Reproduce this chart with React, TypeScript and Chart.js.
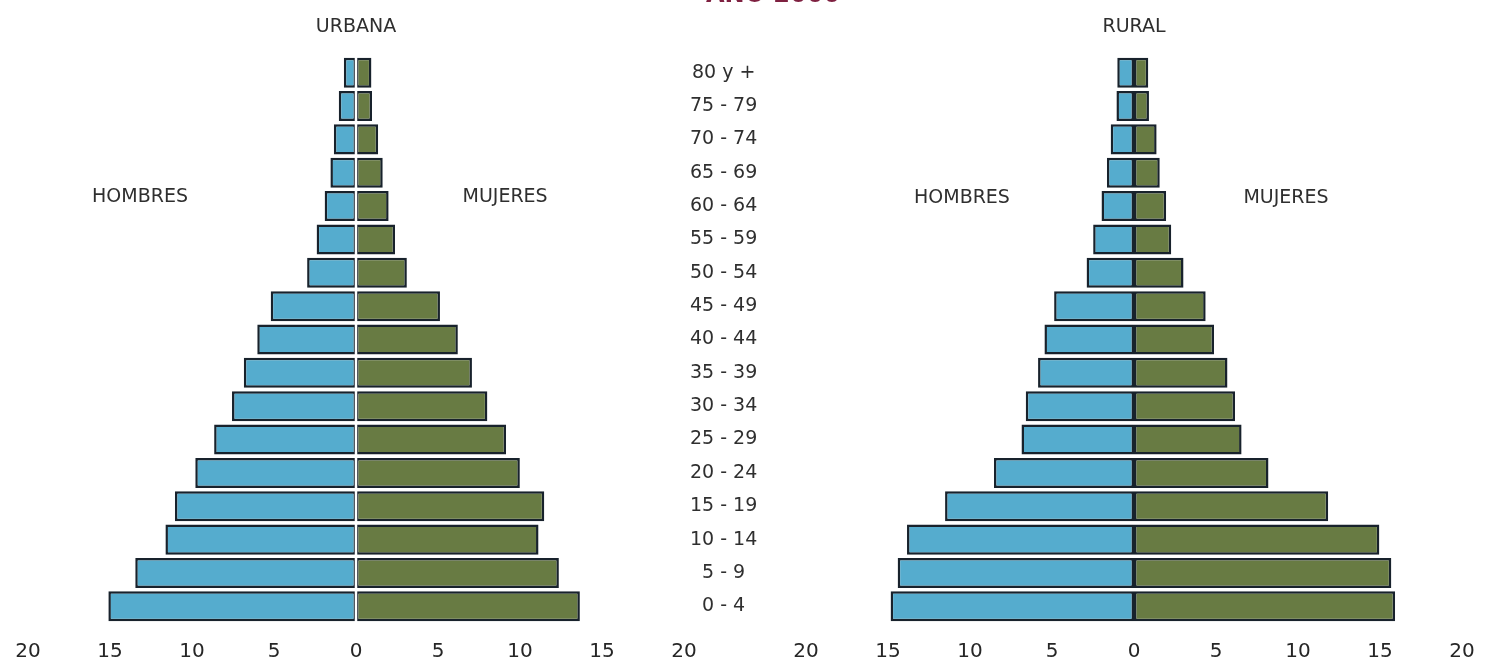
import React, { useEffect, useRef } from 'react';
import { Chart, registerables } from 'chart.js';

Chart.register(...registerables);

// ---------- data (top row first) ----------
const AGE_GROUPS = [
  '80 y +', '75 - 79', '70 - 74', '65 - 69', '60 - 64', '55 - 59', '50 - 54', '45 - 49',
  '40 - 44', '35 - 39', '30 - 34', '25 - 29', '20 - 24', '15 - 19', '10 - 14', '5 - 9', '0 - 4',
];
const URBAN_MEN = [0.74, 1.05, 1.35, 1.56, 1.91, 2.4, 2.98, 5.2, 6.02, 6.84, 7.56, 8.65, 9.8, 11.04, 11.62, 13.46, 15.1];
const URBAN_WOMEN = [0.94, 0.98, 1.35, 1.63, 1.99, 2.38, 3.1, 5.12, 6.21, 7.07, 8.01, 9.15, 9.99, 11.48, 11.13, 12.37, 13.65];
const RURAL_MEN = [1.02, 1.07, 1.42, 1.65, 1.98, 2.49, 2.89, 4.87, 5.46, 5.85, 6.6, 6.86, 8.54, 11.52, 13.84, 14.41, 14.84];
const RURAL_WOMEN = [0.87, 0.91, 1.38, 1.57, 1.96, 2.27, 3.02, 4.37, 4.88, 5.7, 6.16, 6.56, 8.2, 11.84, 14.96, 15.69, 15.92];
const X_MIN = -20;
const X_MAX = 20;
const X_STEP = 5;
const TITLE = 'AÑO 2000';
const PANEL_NAMES = ['URBANA', 'RURAL'];
const SEX_NAMES = ['HOMBRES', 'MUJERES'];

const MEN_COLOR = '#55acce';
const WOMEN_COLOR = '#687b43';
const BORDER_COLOR = '#18222c';
const TEXT_COLOR = '#2f2f2f';
const FONT = 'DejaVu Sans';

type Label = { text: string; x: number; y: number };

const pyramidText = {
  id: 'pyramidText',
  afterDatasetsDraw(chart: any, _args: any, opts: any) {
    if (!opts.centerGap) return;
    const { ctx, chartArea, scales } = chart;
    const x0 = scales.x.getPixelForValue(0);
    ctx.save();
    ctx.strokeStyle = '#ffffff';
    ctx.lineWidth = 2.5;
    ctx.beginPath();
    ctx.moveTo(x0, chartArea.top);
    ctx.lineTo(x0, chartArea.bottom);
    ctx.stroke();
    ctx.restore();
  },
  afterDraw(chart: any, _args: any, opts: any) {
    const { ctx, scales } = chart;
    ctx.save();
    ctx.fillStyle = TEXT_COLOR;
    ctx.textAlign = 'center';
    ctx.textBaseline = 'middle';
    ctx.font = `19px "${FONT}"`;
    (opts.labels || []).forEach((l: Label) => {
      ctx.fillText(l.text, scales.x.getPixelForValue(l.x), scales.y.getPixelForValue(l.y));
    });
    ctx.restore();
  },
};

function makeConfig(
  men: number[],
  women: number[],
  panel: string,
  labels: Label[],
  showAges: boolean,
  padding: { left: number; right: number },
  centerGap: boolean,
): any {
  const barStyle = {
    borderColor: BORDER_COLOR,
    borderWidth: 2.5,
    borderSkipped: false,
    barPercentage: 0.9,
    categoryPercentage: 1,
  };
  return {
    type: 'bar',
    data: {
      labels: AGE_GROUPS,
      datasets: [
        { label: SEX_NAMES[0], data: men.map((v) => -v), backgroundColor: MEN_COLOR, ...barStyle },
        { label: SEX_NAMES[1], data: women, backgroundColor: WOMEN_COLOR, ...barStyle },
      ],
    },
    options: {
      indexAxis: 'y',
      responsive: false,
      maintainAspectRatio: false,
      animation: false,
      layout: { padding: { top: 56, bottom: 4, left: padding.left, right: padding.right } },
      plugins: {
        legend: { display: false },
        title: { display: false },
        tooltip: { enabled: false },
        pyramidText: {
          centerGap,
          labels: [{ text: panel, x: 0, y: -1.38 }, ...labels],
        },
      },
      scales: {
        x: {
          type: 'linear',
          stacked: true,
          min: X_MIN,
          max: X_MAX,
          grid: { display: false, drawTicks: false },
          border: { display: false },
          ticks: {
            stepSize: X_STEP,
            padding: 17,
            color: '#262626',
            font: { family: FONT, size: 20 },
            callback: (v: any) => String(Math.abs(Number(v))),
          },
          afterFit: (s: any) => {
            s.height = 41;
            s.paddingLeft = 0;
            s.paddingRight = 0;
          },
        },
        y: {
          type: 'category',
          stacked: true,
          display: true,
          position: 'right',
          grid: { display: false, drawTicks: false },
          border: { display: false },
          ticks: {
            display: showAges,
            crossAlign: 'center',
            padding: 6,
            color: TEXT_COLOR,
            font: { family: FONT, size: 19 },
          },
          afterFit: (s: any) => {
            s.width = showAges ? 100 : 0;
            s.paddingTop = 0;
            s.paddingBottom = 0;
          },
        },
      },
    },
    plugins: [pyramidText],
  };
}

function PyramidChart(props: { config: () => any; width: number; left: number }) {
  const ref = useRef<HTMLCanvasElement | null>(null);
  useEffect(() => {
    if (!ref.current) return;
    const chart = new Chart(ref.current, props.config());
    return () => chart.destroy();
  }, []);
  return (
    <canvas
      ref={ref}
      width={props.width}
      height={668}
      style={{ position: 'absolute', left: props.left, top: 0, width: props.width, height: 668 }}
    />
  );
}

export default function App() {
  return (
    <div style={{ position: 'fixed', left: 0, top: 0, width: 1493, height: 668, background: '#ffffff', overflow: 'hidden' }}>
      <div
        style={{
          position: 'absolute',
          left: 673,
          top: -18,
          width: 200,
          textAlign: 'center',
          fontFamily: FONT,
          fontWeight: 'bold',
          fontSize: 24,
          lineHeight: '24px',
          color: '#7e2040',
          zIndex: 2,
        }}
      >
        {TITLE}
      </div>
      <PyramidChart
        left={0}
        width={790}
        config={() =>
          makeConfig(
            URBAN_MEN,
            URBAN_WOMEN,
            PANEL_NAMES[0],
            [
              { text: SEX_NAMES[0], x: -13.17, y: 3.72 },
              { text: SEX_NAMES[1], x: 9.09, y: 3.72 },
            ],
            true,
            { left: 28, right: 6 },
            true,
          )
        }
      />
      <PyramidChart
        left={790}
        width={703}
        config={() =>
          makeConfig(
            RURAL_MEN,
            RURAL_WOMEN,
            PANEL_NAMES[1],
            [
              { text: SEX_NAMES[0], x: -10.49, y: 3.75 },
              { text: SEX_NAMES[1], x: 9.27, y: 3.75 },
            ],
            false,
            { left: 16, right: 31 },
            false,
          )
        }
      />
    </div>
  );
}
